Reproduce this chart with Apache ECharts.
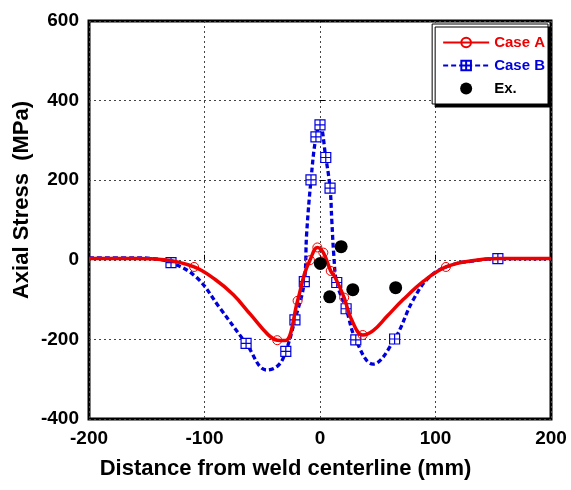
<!DOCTYPE html>
<html>
<head>
<meta charset="utf-8">
<title>Axial Stress</title>
<script src="https://cdn.jsdelivr.net/npm/echarts@6/dist/echarts.min.js"></script>
<style>
  html, body { margin: 0; padding: 0; background: #fff; }
  #chart { width: 571px; height: 490px; }
</style>
</head>
<body>
<div id="chart"></div>
<script>
// 轴刻度
const xTicks = [-200, -100, 0, 100, 200];
const yTicks = [-400, -200, 0, 200, 400, 600];

// Case A (mark = 1 显示圆圈)
const caseAX = [-200, -160, -135, -109, -91, -75, -60, -45, -37, -30, -19.4, -13.5, -8.7, -2.3, 2.9, 9.3, 13, 20.9, 27, 37, 46, 58, 72, 90, 109, 130, 155, 200];
const caseAY = [3, 3, 0, -18, -49, -88, -138, -188, -202, -203, -103, -36, -1, 31, 18, -28, -44, -95, -148, -189, -178, -142, -100, -53, -18, -3, 3, 3];
const caseAMark = [0, 0, 0, 1, 0, 0, 0, 0, 1, 0, 1, 0, 1, 1, 1, 1, 0, 1, 0, 1, 0, 0, 0, 0, 1, 0, 0, 0];

// Case B
const caseBX = [-200, -160, -145, -129, -107, -87, -64, -46, -36, -29.6, -21.7, -13.6, -11.6, -7.8, -3.5, 0, 5, 8.7, 10.2, 12, 14.5, 22.6, 31, 45.8, 64.6, 81, 96, 115, 130, 154, 200];
const caseBY = [5, 5, 3, -7, -44, -120, -210, -277, -265, -230, -151, -55, 64, 201, 309, 339, 257, 180, 100, 10, -57, -123, -201, -262, -199, -99, -40, -12, -4, 3, 3];
const caseBMark = [0, 0, 0, 1, 0, 0, 1, 0, 0, 1, 1, 1, 0, 1, 1, 1, 1, 1, 0, 0, 1, 1, 1, 0, 1, 0, 0, 0, 0, 1, 0];

// 实验值
const exX = [0.3, 8.4, 18.3, 28.4, 65.5];
const exY = [-9, -93, 33, -75, -70];

const red = "#ee0000";
const blue = "#0000dd";
const font = "Liberation Sans, Arial, sans-serif";
const squarePlus = "path://M0,0L10,0L10,10L0,10Z M5,0L5,10 M0,5L10,5";

function buildLine(xs, ys, marks) {
  return xs.map((x, i) => (marks[i] ? [x, ys[i]] : { value: [x, ys[i]], symbol: "none" }));
}

const chart = echarts.init(document.getElementById("chart"));

const options = {
  animation: false,
  backgroundColor: "#fff",
  grid: {
    left: 89,
    top: 21,
    width: 462,
    height: 398,
    show: true,
    borderColor: "#000",
    borderWidth: 3,
    backgroundColor: "transparent"
  },
  legend: {
    orient: "vertical",
    right: 23,
    top: 24,
    padding: [11, 3, 8, 10],
    itemWidth: 46,
    itemHeight: 12,
    itemGap: 8,
    backgroundColor: "#fff",
    borderColor: "#000",
    borderWidth: 1,
    shadowColor: "#000",
    shadowBlur: 0,
    shadowOffsetX: 3,
    shadowOffsetY: 3,
    textStyle: { fontFamily: font, fontWeight: "bold", fontSize: 15 },
    data: [
      { name: "Case A", textStyle: { color: red } },
      { name: "Case B", textStyle: { color: blue } },
      { name: "Ex.", textStyle: { color: "#000" } }
    ]
  },
  xAxis: {
    type: "value",
    min: xTicks[0],
    max: xTicks[xTicks.length - 1],
    interval: 100,
    axisLine: { show: false },
    axisTick: { show: true, inside: true, length: 5, lineStyle: { color: "#000", width: 1 } },
    axisLabel: {
      margin: 10,
      color: "#000",
      fontFamily: font,
      fontWeight: "bold",
      fontSize: 19,
      showMinLabel: true,
      showMaxLabel: true
    },
    splitLine: { show: true, lineStyle: { color: "#444", type: [2, 3], width: 1 } }
  },
  yAxis: {
    type: "value",
    min: yTicks[0],
    max: yTicks[yTicks.length - 1],
    interval: 200,
    axisLine: { show: false },
    axisTick: { show: true, inside: true, length: 5, lineStyle: { color: "#000", width: 1 } },
    axisLabel: {
      margin: 10,
      color: "#000",
      fontFamily: font,
      fontWeight: "bold",
      fontSize: 19
    },
    splitLine: { show: true, lineStyle: { color: "#444", type: [2, 3], width: 1 } }
  },
  graphic: [
    {
      type: "text",
      left: "center",
      top: 458,
      style: {
        text: "Distance from weld centerline (mm)",
        font: "bold 22px " + font,
        fill: "#000"
      }
    },
    {
      type: "text",
      x: 22,
      y: 200,
      rotation: Math.PI / 2,
      style: {
        text: "Axial Stress  (MPa)",
        font: "bold 22px " + font,
        fill: "#000",
        align: "center",
        verticalAlign: "middle"
      }
    }
  ],
  series: [
    {
      name: "Case B",
      type: "line",
      z: 2,
      smooth: 0.4,
      symbol: squarePlus,
      symbolSize: 10,
      showAllSymbol: true,
      lineStyle: { color: blue, width: 3.3, type: [5, 3] },
      itemStyle: { color: "#fff", borderColor: blue, borderWidth: 1.2 },
      data: buildLine(caseBX, caseBY, caseBMark)
    },
    {
      name: "Case A",
      type: "line",
      z: 3,
      smooth: 0.4,
      symbol: "circle",
      symbolSize: 9,
      showAllSymbol: true,
      lineStyle: { color: red, width: 3.5 },
      itemStyle: { color: "rgba(255,255,255,0)", borderColor: red, borderWidth: 1 },
      data: buildLine(caseAX, caseAY, caseAMark)
    },
    {
      name: "Ex.",
      type: "scatter",
      z: 4,
      symbol: "circle",
      symbolSize: 13,
      itemStyle: { color: "#000", opacity: 1 },
      data: exX.map((x, i) => [x, exY[i]])
    }
  ]
};

chart.setOption(options);
</script>
</body>
</html>
